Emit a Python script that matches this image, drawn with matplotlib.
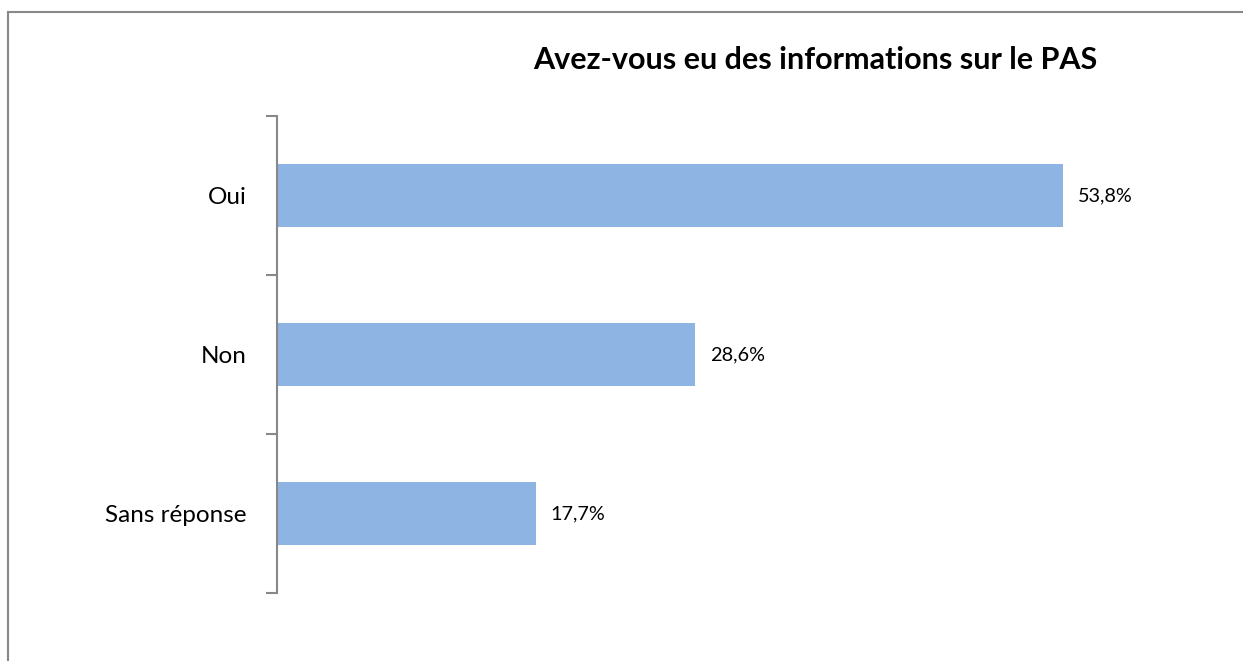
import matplotlib.pyplot as plt
from matplotlib.lines import Line2D

categories = ["Oui", "Non", "Sans réponse"]
values = [53.8, 28.6, 17.7]
labels = ["53,8%", "28,6%", "17,7%"]

W, H = 1243, 661
plt.rcParams['font.family'] = ['Lato', 'DejaVu Sans']

fig = plt.figure(figsize=(W / 100, H / 100), dpi=100)
ax = fig.add_axes([277 / W, 68 / H, (1154 - 277) / W, (593 - 116) / H])

pos = [2, 1, 0]
ax.barh(pos, values, height=0.4, color='#8EB4E3', edgecolor='none')
ax.set_xlim(0, 60)
ax.set_ylim(-0.5, 2.5)

for p, v, t in zip(pos, values, labels):
    ax.text(v + 1.0, p, t, va='center', ha='left', fontsize=14.3)

ax.set_yticks([-0.5, 0.5, 1.5, 2.5])
ax.set_yticklabels([])
ax.set_yticks(pos, minor=True)
ax.set_yticklabels(categories, minor=True, fontsize=17.5)
ax.tick_params(axis='y', which='major', length=8, width=1.5, color='#888888')
ax.tick_params(axis='y', which='minor', length=0, pad=22)
ax.set_xticks([])
for s in ['top', 'right', 'bottom']:
    ax.spines[s].set_visible(False)
ax.spines['left'].set_color('#888888')
ax.spines['left'].set_linewidth(1.5)

fig.text(815 / W, 1 - 60 / H, "Avez-vous eu des informations sur le PAS",
         ha='center', va='center', fontsize=22, fontweight='bold')

# outer chart frame (left and top edges)
fig.add_artist(Line2D([8 / W, 8 / W], [0, 1 - 12 / H], transform=fig.transFigure,
                      color='#888888', lw=1.5))
fig.add_artist(Line2D([8 / W, 1], [1 - 12 / H, 1 - 12 / H], transform=fig.transFigure,
                      color='#888888', lw=1.5))

fig.savefig('out.png', dpi=100)
